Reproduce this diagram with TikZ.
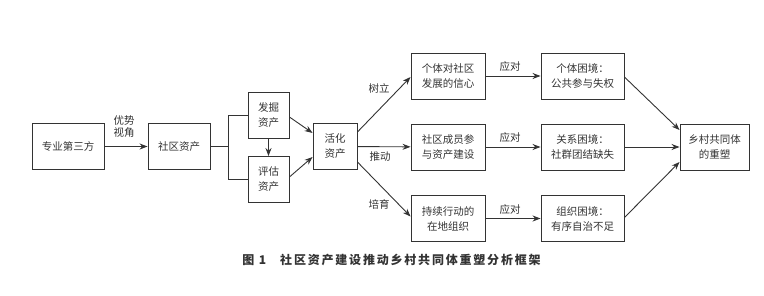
\documentclass[tikz,border=0pt]{standalone}
\usepackage{fontspec}
\setmainfont{Noto Sans CJK SC}
\newfontfamily\capfont[LetterSpace=15]{Noto Sans CJK SC}
\usetikzlibrary{arrows.meta,calc}
\definecolor{ink}{gray}{0.2}
\begin{document}
\begin{tikzpicture}[x=1pt,y=-1pt,
  box/.style={draw=ink,line width=0.9pt,text=ink,font=\fontsize{10.5}{15}\selectfont,align=center,inner sep=0pt,minimum height=46pt},
  lab/.style={text=ink,font=\fontsize{10.5}{12}\selectfont,inner sep=0pt,align=center},
  conn/.style={draw=ink,line width=0.9pt},
  arr/.style={conn,-{Stealth[length=8pt,width=6pt]}}]
\useasboundingbox (0,0) rectangle (764,295);
\node[box,minimum width=72pt] (a) at (68,146.5) {专业第三方};
\node[box,minimum width=62pt] (b) at (179,146.5) {社区资产};
\node[box,minimum width=41pt] (c) at (268.5,115) {发掘\\资产};
\node[box,minimum width=41pt] (d) at (268.5,179.5) {评估\\资产};
\node[box,minimum width=44pt] (e) at (335,146.5) {活化\\资产};
\node[box,minimum width=74pt] (f1) at (448,76) {个体对社区\\发展的信心};
\node[box,minimum width=74pt] (f2) at (448,147) {社区成员参\\与资产建设};
\node[box,minimum width=74pt] (f3) at (448,218.5) {持续行动的\\在地组织};
\node[box,minimum width=83pt] (g1) at (582.5,76) {个体困境：\\公共参与失权};
\node[box,minimum width=83pt] (g2) at (582.5,147) {关系困境：\\社群团结缺失};
\node[box,minimum width=83pt] (g3) at (582.5,218.5) {组织困境：\\有序自治不足};
\node[box,minimum width=69pt] (h) at (714.5,147) {乡村共同体\\的重塑};
% labels
\node[lab] (l0) at (124,127) {优势\\视角};
\node[lab] (l1) at (379,88) {树立};
\node[lab] (l2) at (380,157) {推动};
\node[lab] (l3) at (379,204) {培育};
\node[lab] (l4) at (510,67) {应对};
\node[lab] (l5) at (510,138) {应对};
\node[lab] (l6) at (510,210) {应对};
% connectors
\draw[arr] (a) -- (b);
\draw[conn] (b.east) -- ++(18,0) coordinate (j);
\draw[conn] (j |- c.west) -- (c.west);
\draw[conn] (j |- d.west) -- (d.west);
\draw[conn] (j |- c.west) -- (j |- d.west);
\draw[arr] (c) -- (d);
\draw[arr] ($(c.east)+(0,2)$) -- ($(e.west)+(0,-13.5)$);
\draw[arr] ($(d.east)+(0,-2.5)$) -- ($(e.west)+(0,10.5)$);
\draw[arr] ($(e.east)+(0,-14.5)$) -- ($(f1.west)+(0,1)$);
\draw[arr] (e) -- (f2);
\draw[arr] ($(e.east)+(0,15.5)$) -- ($(f3.west)+(0,-2)$);
\draw[arr] (f1) -- (g1);
\draw[arr] (f2) -- (g2);
\draw[arr] (f3) -- (g3);
\draw[arr] ($(g1.east)+(0,1)$) -- ($(h.west)+(0,-17)$);
\draw[arr] (g2) -- (h);
\draw[arr] ($(g3.east)+(0,-1)$) -- ($(h.west)+(0,15)$);
% caption
\node[text=ink,inner sep=0pt,font=\fontsize{12}{14}\selectfont\capfont\bfseries] (cap) at (391.5,260) {图 1\hspace{14pt}社区资产建设推动乡村共同体重塑分析框架};
\end{tikzpicture}
\end{document}
